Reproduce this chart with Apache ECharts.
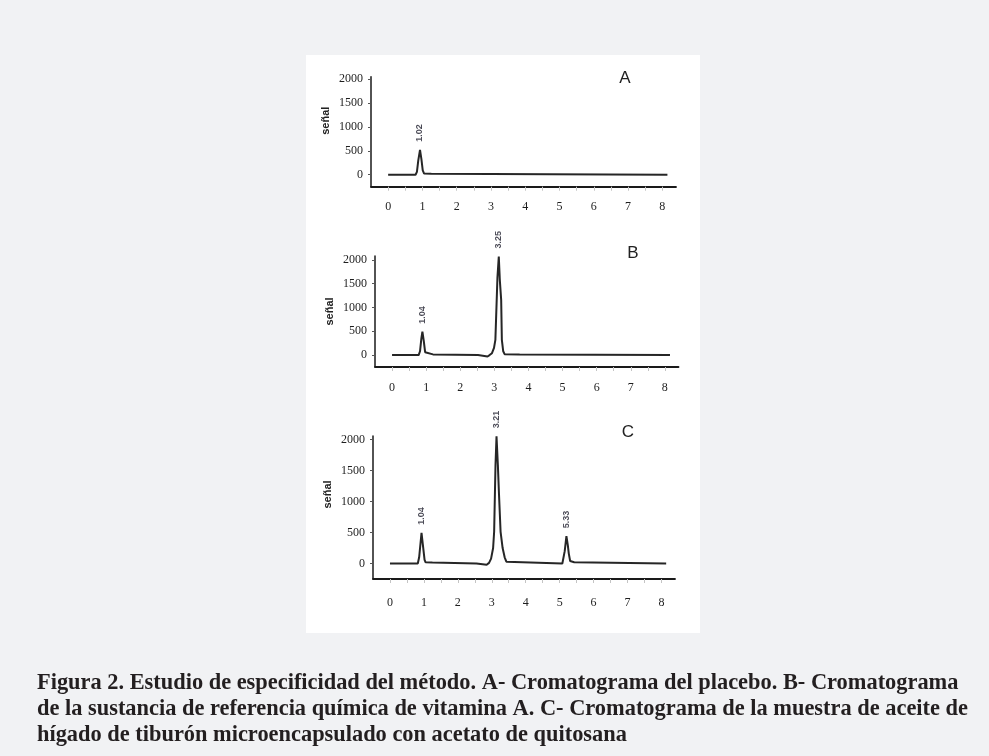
<!DOCTYPE html>
<html>
<head>
<meta charset="utf-8">
<script src="https://cdn.jsdelivr.net/npm/echarts@6/dist/echarts.min.js"></script>
<style>
html,body{margin:0;padding:0;background:#f1f2f4;}
#chart{width:989px;height:756px;}
</style>
</head>
<body>
<div id="chart"></div>
<script>
// ---- data ----
const xLabelValues = [0, 1, 2, 3, 4, 5, 6, 7, 8];
const xTickValues = [0, 0.5, 1, 1.5, 2, 2.5, 3, 3.5, 4, 4.5, 5, 5.5, 6, 6.5, 7, 7.5, 8];
const yLabelValues = [0, 500, 1000, 1500, 2000];
const panelNames = ['A', 'B', 'C'];
const yAxisTitle = 'señal';

const signalA = [[0,0],[0.8,0],[0.84,60],[0.88,300],[0.93,520],[0.97,330],[1.01,90],[1.05,25],[1.26,20],[1.29,0],[8.15,0]];
const signalB = [[0,0],[0.78,0],[0.82,80],[0.86,350],[0.89,490],[0.93,300],[0.97,60],[1.0,20],[1.2,15],[1.23,0],
  [2.52,0],[2.56,-30],[2.8,-30],[2.86,0],[2.93,40],[2.99,150],[3.03,320],[3.09,1620],[3.13,2070],[3.16,1580],
  [3.2,1160],[3.22,320],[3.26,80],[3.3,20],[3.74,10],[3.77,0],[8.15,0]];
const signalC = [[0,0],[0.82,0],[0.86,100],[0.93,497],[0.97,300],[1.02,60],[1.05,20],[1.25,15],[1.28,0],
  [2.55,0],[2.6,-20],[2.85,-20],[2.92,10],[2.98,80],[3.04,250],[3.07,513],[3.11,1590],[3.14,2055],[3.18,1590],
  [3.21,1160],[3.26,513],[3.32,250],[3.38,100],[3.43,30],[3.48,0],[5.08,0],[5.1,0],[5.15,200],[5.2,442],
  [5.24,300],[5.27,160],[5.31,40],[5.34,25],[5.43,20],[5.46,0],[8.14,0]];

const peaksA = [[0.93, 520, '1.02']];
const peaksB = [[0.89, 490, '1.04'], [3.13, 2070, '3.25']];
const peaksC = [[0.93, 497, '1.04'], [3.14, 2055, '3.21'], [5.2, 442, '5.33']];

const captionLines = [
  'Figura 2. Estudio de especificidad del método. A- Cromatograma del placebo. B- Cromatograma',
  'de la sustancia de referencia química de vitamina A. C- Cromatograma de la muestra de aceite de',
  'hígado de tiburón microencapsulado con acetato de quitosana'
];

// ---- layout ----
const panels = [
  {signal: signalA, peaks: peaksA, grid: {left: 371, top: 76.7, width: 305, height: 110}, yMax: 2050, xMargin: 14, namePad: 22, letter: [625, 78]},
  {signal: signalB, peaks: peaksB, grid: {left: 375, top: 256, width: 303.5, height: 111}, yMax: 2080, xMargin: 15, namePad: 0, letter: [633, 253]},
  {signal: signalC, peaks: peaksC, grid: {left: 373, top: 436, width: 302, height: 143}, yMax: 2060, xMargin: 18, namePad: 26, letter: [628, 432]}
];

const tickFont = {fontFamily: 'Liberation Serif', fontSize: 12, color: '#1e1e1e'};
const lineColor = '#262626';

const grids = [], xAxes = [], yAxes = [], series = [], graphics = [];

graphics.push({type: 'rect', shape: {x: 306, y: 55, width: 394, height: 578}, style: {fill: '#ffffff'}, z: -10, silent: true});

panels.forEach((p, i) => {
  grids.push(Object.assign({containLabel: false}, p.grid));
  xAxes.push({
    type: 'value', gridIndex: i, min: -0.5, max: 8.4,
    axisLine: {show: true, onZero: false, lineStyle: {color: '#1a1a1a', width: 1.8}},
    axisTick: {show: true, customValues: xTickValues, length: 4, lineStyle: {color: '#c4c4c4', width: 1}},
    axisLabel: Object.assign({customValues: xLabelValues, margin: p.xMargin, formatter: (v) => String(v)}, tickFont),
    splitLine: {show: false}
  });
  yAxes.push({
    type: 'value', gridIndex: i, min: -250, max: p.yMax,
    name: yAxisTitle, nameLocation: 'middle', nameGap: 40,
    nameTextStyle: {fontFamily: 'Liberation Sans', fontWeight: 'bold', fontSize: 11, color: '#222', padding: [0, 0, 0, p.namePad]},
    axisLine: {show: true, onZero: false, lineStyle: {color: '#1a1a1a', width: 1.5}},
    axisTick: {show: true, customValues: yLabelValues, length: 3, lineStyle: {color: '#555', width: 1}},
    axisLabel: Object.assign({customValues: yLabelValues, margin: 8, formatter: (v) => String(v)}, tickFont),
    splitLine: {show: false}
  });
  series.push({
    type: 'line', xAxisIndex: i, yAxisIndex: i, data: p.signal, showSymbol: false, symbol: 'none',
    lineStyle: {color: lineColor, width: 2}, animation: false, clip: false
  });
  series.push({
    type: 'scatter', xAxisIndex: i, yAxisIndex: i, data: p.peaks, symbolSize: 0, animation: false,
    label: {
      show: true, position: 'top', distance: 8, rotate: 90, align: 'left', verticalAlign: 'middle',
      formatter: (d) => d.value[2],
      fontFamily: 'Liberation Sans', fontWeight: 'bold', fontSize: 9, color: '#1c1c2a'
    }
  });
  graphics.push({
    type: 'text', x: p.letter[0], y: p.letter[1], z: 10,
    style: {text: panelNames[i], font: '17px "Liberation Sans"', fill: '#222', textAlign: 'center', textVerticalAlign: 'middle'}
  });
});

captionLines.forEach((t, k) => {
  graphics.push({
    type: 'text', x: 37, y: 683 + k * 26.3, z: 10,
    style: {text: t, font: 'bold 22.4px "Liberation Serif"', fill: '#231f20', textAlign: 'left', textVerticalAlign: 'middle'}
  });
});

const chart = echarts.init(document.getElementById('chart'), null, {renderer: 'canvas'});
chart.setOption({
  backgroundColor: '#f1f2f4',
  animation: false,
  grid: grids,
  xAxis: xAxes,
  yAxis: yAxes,
  series: series,
  graphic: graphics
});
</script>
</body>
</html>
